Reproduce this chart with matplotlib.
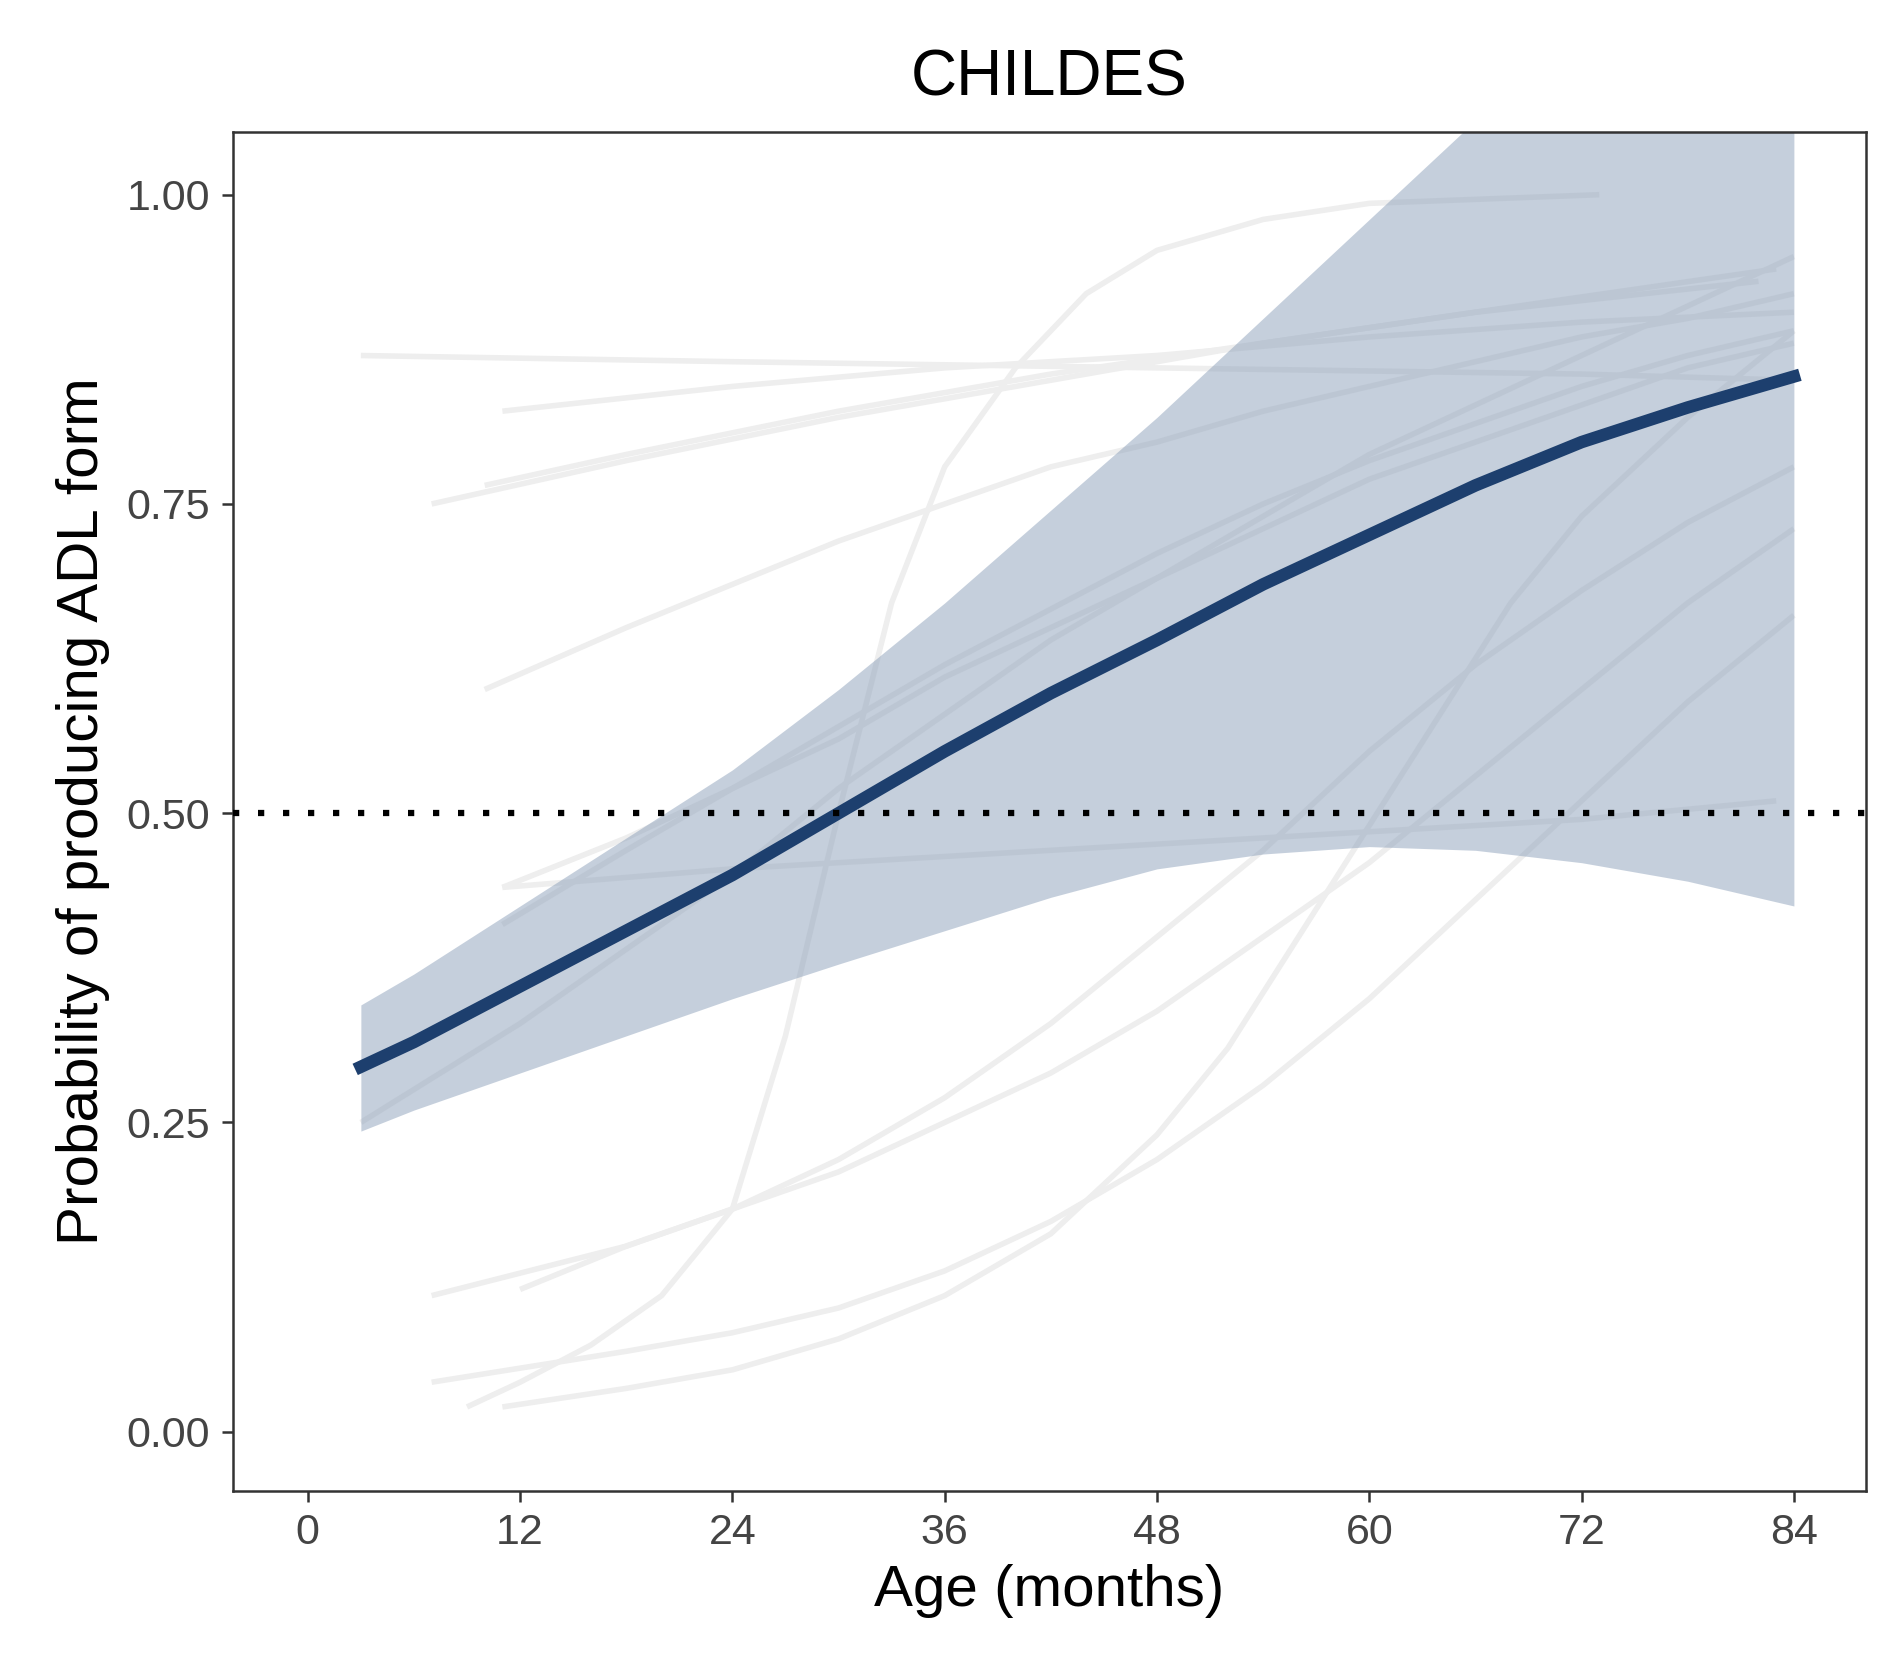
import numpy as np
import matplotlib.pyplot as plt

plt.rcParams['font.family'] = ['Liberation Sans', 'DejaVu Sans']

# population fit
fit_age = [3, 6, 12, 18, 24, 30, 36, 42, 48, 54, 60, 66, 72, 78, 84]
fit_mean = [0.295, 0.315, 0.36, 0.405, 0.45, 0.50, 0.55, 0.597, 0.64, 0.685,
            0.725, 0.765, 0.80, 0.828, 0.853]
fit_upper = [0.345, 0.37, 0.425, 0.48, 0.535, 0.60, 0.67, 0.745, 0.82, 0.90,
             0.98, 1.06, 1.14, 1.22, 1.30]
fit_lower = [0.243, 0.26, 0.29, 0.32, 0.35, 0.378, 0.405, 0.432, 0.455, 0.467,
             0.473, 0.47, 0.46, 0.445, 0.425]

# per-child fits (approximate)
child_ages = [
    [3, 24, 48, 72, 84],
    [11, 24, 36, 48, 60, 72, 84],
    [7, 18, 30, 42, 54, 66, 83],
    [10, 18, 30, 42, 54, 66, 82],
    [10, 18, 24, 30, 36, 42, 48, 54, 60, 66, 72, 78, 84],
    [11, 24, 36, 48, 60, 72, 83],
    [11, 18, 24, 30, 36, 42, 48, 54, 60, 66, 72, 78, 84],
    [9, 12, 16, 20, 24, 27, 30, 33, 36, 40, 44, 48, 54, 60, 73],
    [7, 18, 24, 30, 36, 42, 48, 54, 60, 66, 72, 78, 84],
    [12, 18, 24, 30, 36, 42, 48, 54, 60, 66, 72, 78, 84],
    [7, 18, 24, 30, 36, 42, 48, 54, 60, 66, 72, 78, 84],
    [11, 18, 24, 30, 36, 42, 48, 52, 56, 60, 64, 68, 72, 78, 84],
    [3, 12, 18, 24, 30, 36, 42, 48, 54, 60, 66, 72, 78, 84],
    [11, 18, 24, 30, 36, 42, 48, 54, 60, 66, 72, 78, 84],
]
child_probs = [
    [0.87, 0.865, 0.86, 0.855, 0.85],
    [0.825, 0.845, 0.86, 0.87, 0.885, 0.897, 0.905],
    [0.75, 0.785, 0.82, 0.85, 0.88, 0.905, 0.94],
    [0.765, 0.79, 0.825, 0.855, 0.88, 0.905, 0.93],
    [0.60, 0.65, 0.685, 0.72, 0.75, 0.78, 0.80, 0.825, 0.845, 0.865, 0.885, 0.90, 0.92],
    [0.44, 0.455, 0.465, 0.475, 0.485, 0.495, 0.51],
    [0.41, 0.47, 0.52, 0.57, 0.62, 0.665, 0.71, 0.75, 0.785, 0.815, 0.845, 0.87, 0.89],
    [0.02, 0.04, 0.07, 0.11, 0.18, 0.32, 0.50, 0.67, 0.78, 0.86, 0.92, 0.955, 0.98, 0.993, 1.0],
    [0.11, 0.15, 0.18, 0.21, 0.25, 0.29, 0.34, 0.40, 0.46, 0.53, 0.60, 0.67, 0.73],
    [0.115, 0.15, 0.18, 0.22, 0.27, 0.33, 0.40, 0.47, 0.55, 0.62, 0.68, 0.735, 0.78],
    [0.04, 0.065, 0.08, 0.10, 0.13, 0.17, 0.22, 0.28, 0.35, 0.43, 0.51, 0.59, 0.66],
    [0.02, 0.035, 0.05, 0.075, 0.11, 0.16, 0.24, 0.31, 0.40, 0.49, 0.58, 0.67, 0.74, 0.82, 0.89],
    [0.25, 0.33, 0.39, 0.45, 0.52, 0.58, 0.64, 0.69, 0.74, 0.79, 0.83, 0.87, 0.91, 0.95],
    [0.44, 0.48, 0.52, 0.56, 0.61, 0.65, 0.69, 0.73, 0.77, 0.80, 0.83, 0.86, 0.88],
]

fig, ax = plt.subplots(figsize=(18.91, 16.66), dpi=100)
fig.subplots_adjust(left=0.123, right=0.987, top=0.921, bottom=0.105)

for a, p in zip(child_ages, child_probs):
    ax.plot(a, p, color='#eeeeee', lw=4, solid_capstyle='butt', zorder=1)

ax.fill_between(fit_age, fit_lower, fit_upper, color='#8ca0ba', alpha=0.5,
                lw=0, zorder=2)
ax.plot(fit_age, fit_mean, color='#1d3f6e', lw=9, zorder=3)
ax.axhline(0.5, color='black', lw=4.5, linestyle=(0, (1, 3)), zorder=4)

ax.set_xlim(-4.25, 88.1)
ax.set_ylim(-0.048, 1.051)
ax.set_xticks(range(0, 85, 12))
ax.set_yticks([0, 0.25, 0.5, 0.75, 1.0])
ax.set_yticklabels(['0.00', '0.25', '0.50', '0.75', '1.00'])
ax.tick_params(labelsize=31, length=8, width=1.8, pad=8, colors='#333333',
               labelcolor='#444444')
for s in ax.spines.values():
    s.set_linewidth(1.8)
    s.set_color('#333333')
ax.set_xlabel('Age (months)', fontsize=42, labelpad=8)
ax.set_ylabel('Probability of producing ADL form', fontsize=42, labelpad=12)
ax.set_title('CHILDES', fontsize=46, pad=26)

fig.savefig('out.png', dpi=100)
